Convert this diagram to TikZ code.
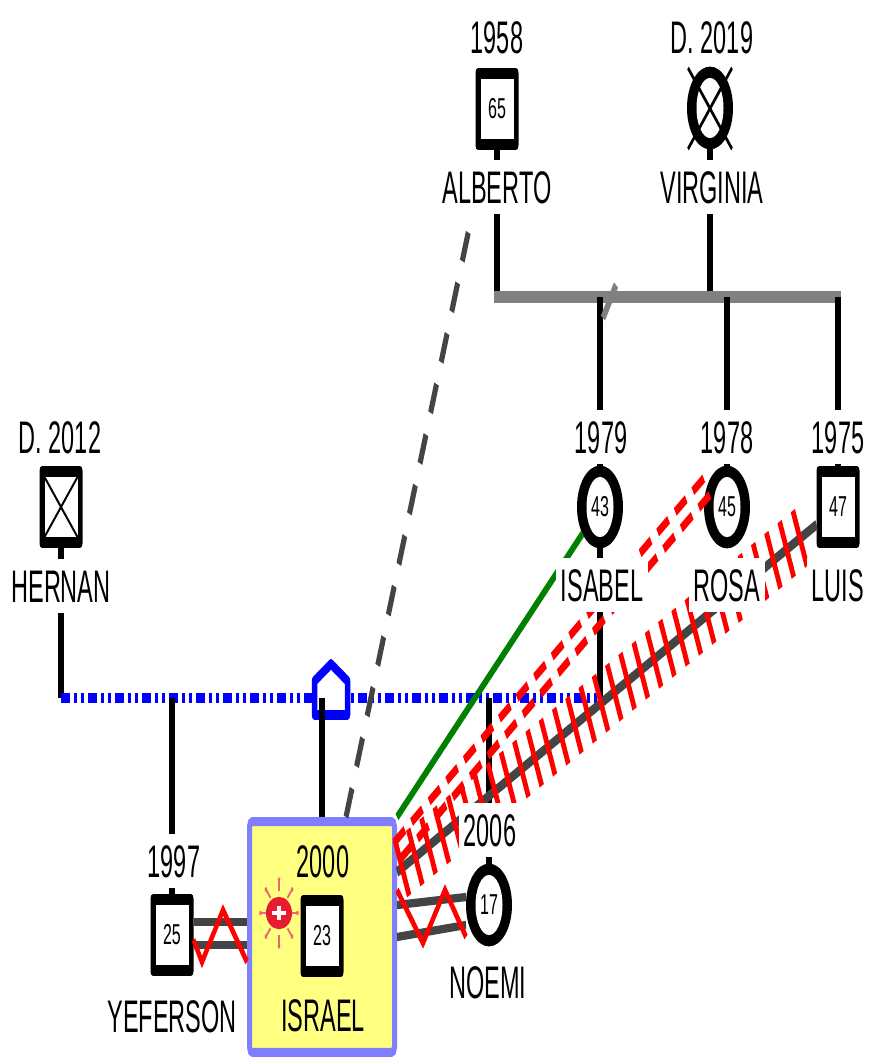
\documentclass[tikz,border=0pt]{standalone}
\usepackage{fontspec}
\setmainfont{Liberation Sans}
\usetikzlibrary{calc,decorations.markings}
\definecolor{hlfill}{RGB}{255,255,128}
\definecolor{hlborder}{RGB}{128,128,255}
\definecolor{famgray}{RGB}{128,128,128}
\definecolor{relgray}{RGB}{68,68,68}
\definecolor{relgreen}{RGB}{0,128,0}
\definecolor{virusred}{RGB}{232,28,48}
\definecolor{rayred}{RGB}{240,100,110}
\newcommand{\lbl}[1]{\scalebox{1}[1.08]{#1}}
\tikzset{
  symsq/.style={rectangle, fill=black, minimum width=43pt, minimum height=45.5pt,
    inner sep=0pt, outer sep=0pt, rounded corners=2.5pt, font=\fontsize{16}{18}\selectfont,
    path picture={\fill[white, sharp corners] ([xshift=-16.5pt,yshift=-16.65pt]path picture bounding box.center)
      rectangle ([xshift=16.5pt,yshift=16.65pt]path picture bounding box.center);}},
  symsqx/.style={rectangle, fill=black, minimum width=43pt, minimum height=45.5pt,
    inner sep=0pt, outer sep=0pt, rounded corners=2.5pt,
    path picture={\fill[white, sharp corners] ([xshift=-16.5pt,yshift=-16.65pt]path picture bounding box.center)
      rectangle ([xshift=16.5pt,yshift=16.65pt]path picture bounding box.center);
      \draw[black, line width=1.6pt, sharp corners] ([xshift=-16.5pt,yshift=-16.65pt]path picture bounding box.center)
      -- ([xshift=16.5pt,yshift=16.65pt]path picture bounding box.center);
      \draw[black, line width=1.6pt, sharp corners] ([xshift=-16.5pt,yshift=16.65pt]path picture bounding box.center)
      -- ([xshift=16.5pt,yshift=-16.65pt]path picture bounding box.center);}},
  symci/.style={circle, fill=black, minimum size=46pt, inner sep=0pt, outer sep=0pt,
    font=\fontsize{16}{18}\selectfont,
    path picture={\fill[white] (path picture bounding box.center) ellipse [x radius=13.5pt, y radius=16.7pt];}},
  hlbox/.style={rectangle, draw=hlborder, fill=hlfill, line width=5pt, minimum width=145pt,
    minimum height=128.3pt, inner sep=0pt, rounded corners=3pt},
  lab/.style={fill=white, inner xsep=5pt, inner ysep=6pt, text height=18.2pt, text depth=0pt,
    font=\fontsize{23.5}{28}\selectfont},
  labnf/.style={lab, fill=none},
  famline/.style={black, line width=6pt},
  famgrayline/.style={famgray, line width=6.5pt, line cap=rect},
  blueline/.style={blue, line width=5.5pt, dash pattern=on 9pt off 4pt on 3pt off 4pt on 3pt off 4pt},
  xline/.style={black, line width=2.2pt},
  dblgray/.style={relgray, line width=4.6pt},
  zig/.style={red, line width=4pt, line join=miter},
  reldash/.style={relgray, line width=5pt, dash pattern=on 17pt off 13pt},
  greenrel/.style={relgreen, line width=4.5pt},
  reddash/.style={red, line width=5pt, dash pattern=on 13pt off 8pt},
  hatchgray/.style={relgray, line width=5.5pt},
  hatch/.style={red, line width=4.6pt},
  housestyle/.style={draw=blue, fill=white, line width=5.5pt, line join=round}
}
\begin{document}
\begin{tikzpicture}
\useasboundingbox (0pt,0pt) rectangle (870pt,-1057pt);
\fill[white] (0pt,0pt) rectangle (870pt,-1057pt);
\begin{scope}[x=1pt, y=-0.5555556pt, transform canvas={yscale=1.8}]
  % highlight box and symbols
  \node[hlbox] (israelbox) at (322,937) {};
  \node[symsq] (alberto) at (497,109) {65};
  \node[symci] (virginia) at (710,108) {};
  \draw[xline] ($(virginia)+(-22,-40)$) -- ($(virginia)+(22,41)$);
  \draw[xline] ($(virginia)+(22,-40)$) -- ($(virginia)+(-22,41)$);
  \node[symsqx] (hernan) at (61,507) {};
  \node[symci] (isabel) at (600,507) {43};
  \node[symci] (rosa) at (727,507) {45};
  \node[symsq] (luis) at (838,507) {47};
  \node[symsq] (yeferson) at (172,935) {25};
  \node[symsq] (israel) at (322,936) {23};
  \node[symci] (noemi) at (489,905) {17};
  % virus icon
  \begin{scope}[shift={(279,913)}]
    \foreach \a in {0,45,...,315} {
      \draw[rayred, line width=1.5pt] (\a:12pt) -- (\a:18.5pt);
      \fill[rayred] (\a:18.5pt) circle (1.3pt);
    }
    \fill[virusred] (0,0) ellipse [x radius=13pt, y radius=9pt];
    \fill[white] (-7pt,-1.3pt) rectangle (7pt,1.3pt);
    \fill[white] (-2.3pt,-4pt) rectangle (2.3pt,4pt);
  \end{scope}
  % family of Alberto and Virginia
  \draw[famline] (alberto.south) -- (alberto.south |- 0,297);
  \draw[famline] (virginia.south) -- (virginia.south |- 0,297);
  \draw[famgrayline] (alberto.south |- 0,297) -- (luis.north |- 0,297);
  \draw[famline] (isabel.north |- 0,297) -- (isabel.north);
  \draw[famline] (rosa.north |- 0,297) -- (rosa.north);
  \draw[famline] (luis.north |- 0,297) -- (luis.north);
  \draw[famgray, line width=5pt] (603,318) -- (616,285);
  % family of Hernan and Isabel
  \draw[famline] (hernan.south) -- (hernan.south |- 0,698);
  \draw[famline] (isabel.south) -- (isabel.south |- 0,698);
  \draw[blueline] (hernan.south |- 0,698) -- (isabel.south |- 0,698);
  \draw[housestyle] (314.5,715) -- (314.5,681) -- (331,664) -- (347.5,681) -- (347.5,715) -- cycle;
  \draw[famline] (yeferson.north |- 0,698) -- (yeferson.north);
  \draw[famline] (israelbox.north |- 0,698) -- (israelbox.north);
  \draw[famline] (noemi.north |- 0,698) -- (noemi.north);
  % Yeferson - Israel
  \draw[dblgray] (yeferson.east |- 0,922) -- (israelbox.west |- 0,922);
  \draw[dblgray] (yeferson.east |- 0,945) -- (israelbox.west |- 0,945);
  \draw[zig] (yeferson.east |- 0,940) -- (202,962) -- (223,910) -- (israelbox.west |- 0,962);
  % Israel - Noemi
  \draw[dblgray] (israelbox.east |- 0,905) -- (noemi.west |- 0,897);
  \draw[dblgray] (israelbox.east |- 0,937) -- (noemi.west |- 0,925);
  \draw[zig] (israelbox.east |- 0,890) -- (423,943) -- (445,890) -- (noemi.west |- 0,937);
  % Israel - Alberto
  \coordinate (albdash) at (474,205);
  \draw[reldash] ($(israelbox.north)+(24,0)$) -- (albdash);
  % Israel - Isabel
  \draw[greenrel] (israelbox.north east) -- (isabel);
  % Israel - Rosa
  \coordinate (ra) at (israelbox.east |- 0,851);
  \draw[reddash] ($(ra)!5.5pt!90:(rosa.150)$) -- ($(rosa.150)!5.5pt!-90:(ra)$);
  \draw[reddash] ($(ra)!5.5pt!-90:(rosa.150)$) -- ($(rosa.150)!5.5pt!90:(ra)$);
  % Israel - Luis
  \coordinate (la) at (israelbox.east |- 0,872);
  \draw[hatchgray] (la) -- (luis);
  \path[postaction=decorate, decoration={markings,
      mark=between positions 0.012 and 0.99 step 14.6pt with {\draw[hatch] (0pt,-17pt) -- (0pt,17pt);}}]
      (la) -- (luis);
  % labels
  \node[lab] (albertoyear) at (497,37) {\lbl{1958}};
  \node[lab] (virginiayear) at (712,37) {\lbl{D. 2019}};
  \node[lab] (albertoname) at (497,187) {\lbl{ALBERTO}};
  \node[lab] (virginianame) at (712,187) {\lbl{VIRGINIA}};
  \node[lab] (hernanyear) at (60,437) {\lbl{D. 2012}};
  \node[lab] (isabelyear) at (601,437) {\lbl{1979}};
  \node[lab] (rosayear) at (727,437) {\lbl{1978}};
  \node[lab] (luisyear) at (838,437) {\lbl{1975}};
  \node[lab] (hernanname) at (61,586) {\lbl{HERNAN}};
  \node[lab] (isabelname) at (602,585) {\lbl{ISABEL}};
  \node[lab] (rosaname) at (727,585) {\lbl{ROSA}};
  \node[lab] (luisname) at (838,585) {\lbl{LUIS}};
  \node[lab] (yefersonyear) at (174,861) {\lbl{1997}};
  \node[labnf] (israelyear) at (323,861) {\lbl{2000}};
  \node[lab] (noemiyear) at (490,830) {\lbl{2006}};
  \node[lab, inner xsep=1pt] (yefersonname) at (172,1016) {\lbl{YEFERSON}};
  \node[labnf] (israelname) at (323,1015) {\lbl{ISRAEL}};
  \node[lab] (noeminame) at (488,982) {\lbl{NOEMI}};
\end{scope}
\end{tikzpicture}
\end{document}
